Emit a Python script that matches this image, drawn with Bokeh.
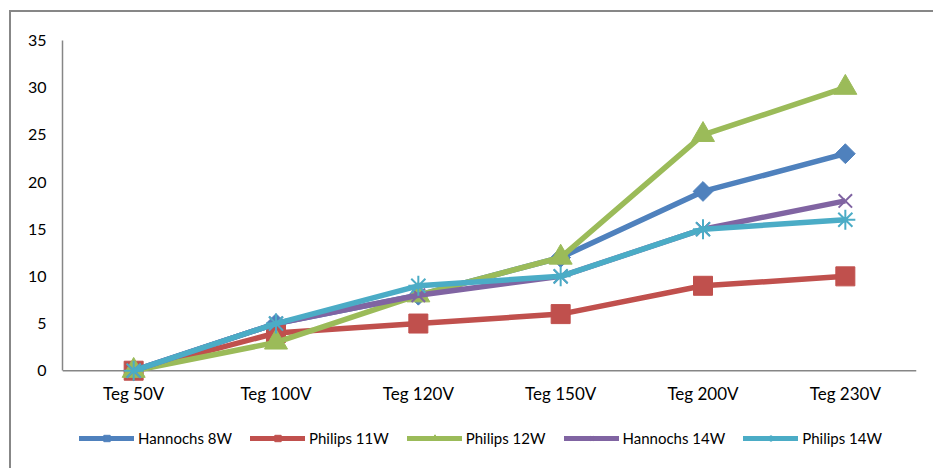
import math
from bokeh.plotting import figure
from bokeh.layouts import column
from bokeh.models import Legend, LegendItem, Range1d, FixedTicker, Span
from bokeh.embed import file_html
from bokeh.resources import INLINE

categories = ["Teg 50V", "Teg 100V", "Teg 120V", "Teg 150V", "Teg 200V", "Teg 230V"]
series_names = ["Hannochs 8W", "Philips 11W", "Philips 12W", "Hannochs 14W", "Philips 14W"]
hannochs_8w = [0, 5, 8, 12, 19, 23]
philips_11w = [0, 4, 5, 6, 9, 10]
philips_12w = [0, 3, 8, 12, 25, 30]
hannochs_14w = [0, 5, 8, 10, 15, 18]
philips_14w = [0, 5, 9, 10, 15, 16]
y_ticks = [0, 5, 10, 15, 20, 25, 30, 35]

series_values = [hannochs_8w, philips_11w, philips_12w, hannochs_14w, philips_14w]
colors = ["#4F81BD", "#C0504D", "#9BBB59", "#8064A2", "#4BACC6"]
markers = ["square", "square", "triangle", "x", "asterisk"]
angles = [math.pi / 4, 0, 0, 0, 0]
sizes = [14, 19, 23, 19, 20]
filled = [True, True, True, False, False]

FONT = "Lato"
AXIS_GRAY = "#868686"

p = figure(x_range=categories, y_range=Range1d(-1.25, 35),
           width=922, height=404, output_backend="svg", toolbar_location=None,
           min_border_left=51, min_border_right=17, min_border_top=28, min_border_bottom=34)
p.outline_line_color = None
p.xgrid.visible = False
p.ygrid.visible = False

for ax in (p.xaxis[0], p.yaxis[0]):
    ax.axis_line_color = AXIS_GRAY
    ax.axis_line_width = 1.5
    ax.major_tick_line_color = None
    ax.minor_tick_line_color = None
    ax.major_tick_out = 0
    ax.major_tick_in = 0
    ax.major_label_text_font = FONT
    ax.major_label_text_color = "#000000"

p.yaxis[0].major_label_text_font_size = "16px"
p.xaxis[0].major_label_text_font_size = "17px"
p.yaxis[0].ticker = FixedTicker(ticks=y_ticks)
p.yaxis[0].bounds = (0, 35)
p.yaxis[0].major_label_standoff = 16
p.xaxis[0].axis_line_color = None
p.xaxis[0].major_label_standoff = 0

# category axis baseline at value 0
p.add_layout(Span(location=0, dimension="width", line_color=AXIS_GRAY, line_width=1.5, level="underlay"))

for name, vals, c, m, a, s, f in zip(series_names, series_values, colors, markers, angles, sizes, filled):
    p.line(categories, vals, line_color=c, line_width=5.5, line_join="round")
    if f:
        p.scatter(categories, vals, marker=m, size=s, angle=a, fill_color=c, line_color=c, line_width=1)
    else:
        p.scatter(categories, vals, marker=m, size=s, line_color=c, line_width=2)

# legend strip: same series, drawn out of view so that only the legend shows
leg = figure(width=922, height=52, x_range=categories, y_range=Range1d(100, 101),
             x_axis_location=None, y_axis_location=None, output_backend="svg",
             toolbar_location=None, min_border=0)
leg.outline_line_color = None
leg.grid.visible = False

items = []
for name, vals, c, m, a, f in zip(series_names, series_values, colors, markers, angles, filled):
    lr = leg.line(categories, vals, line_color=c, line_width=5, line_cap="round")
    if f:
        sr = leg.scatter(categories, vals, marker=m, size=(7 if a else 9), angle=a,
                         fill_color=c, line_color=c)
    else:
        sr = leg.scatter(categories, vals, marker=m, size=8, line_color=c, line_width=1.5)
    items.append(LegendItem(label=name, renderers=[lr, sr]))

legend = Legend(items=items, orientation="horizontal", location=(17, 21),
                label_text_font=FONT, label_text_font_size="15px", label_text_color="#000000",
                glyph_width=55, glyph_height=16, label_standoff=4, spacing=18,
                border_line_color=None, background_fill_alpha=0, padding=0, margin=0)
leg.add_layout(legend)

layout = column(p, leg, spacing=0)
layout.styles = {"margin-left": "9px", "margin-top": "10px",
                 "border-top": "2px solid #878787", "border-left": "2px solid #878787"}

open("out.html", "w").write(file_html(layout, INLINE))
